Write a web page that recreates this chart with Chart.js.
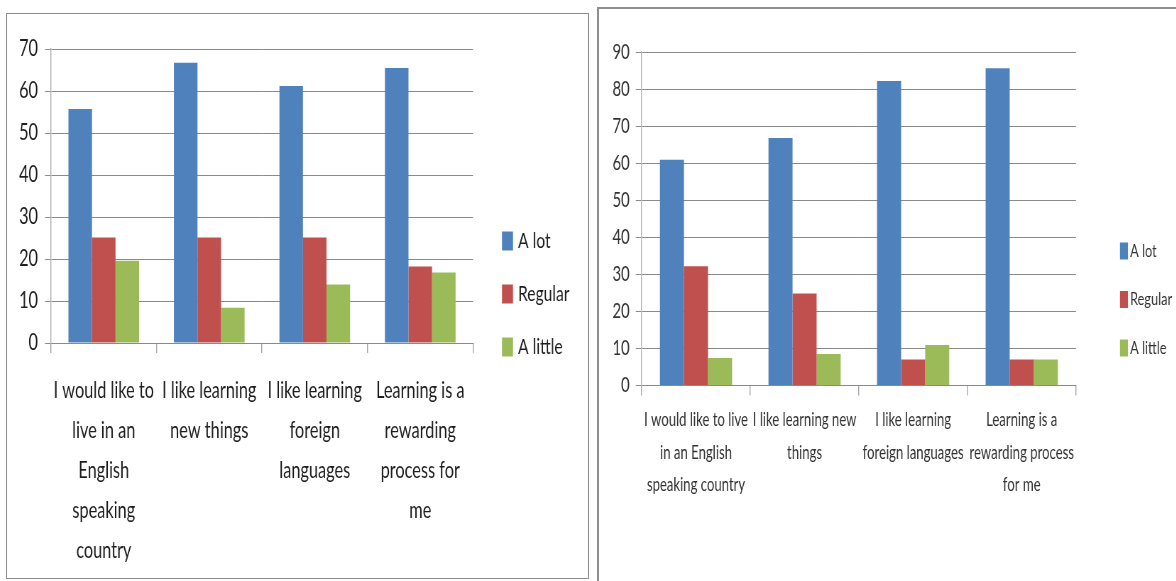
<!DOCTYPE html>
<html>
<head>
<meta charset="utf-8">
<script src="https://cdn.jsdelivr.net/npm/chart.js@4.4.1/dist/chart.umd.min.js"></script>
<style>
    body { margin: 0; background: #fff; width: 1176px; height: 581px; overflow: hidden; position: relative; }
    .frame { position: absolute; box-sizing: border-box; background: #fff; overflow: hidden; }
    #leftFrame { left: 6px; top: 13px; width: 583px; height: 566px; border: 1px solid #8c8c8c; }
    #rightFrame { left: 597px; top: 7px; width: 590px; height: 590px; border: 2px solid #8f8f8f; }
    /* narrow the whole drawing horizontally: condensed lettering like the original */
    canvas { position: absolute; left: 0; top: 0; transform-origin: 0 0; }
</style>
</head>
<body>
<div class="frame" id="leftFrame"><canvas id="leftChart"></canvas></div>
<div class="frame" id="rightFrame"><canvas id="rightChart"></canvas></div>

<script>
// Survey statements, split over lines the way each chart wraps them
const leftCategories = [
    ['I would like to', 'live in an', 'English', 'speaking', 'country'],
    ['I like learning', 'new things'],
    ['I like learning', 'foreign', 'languages'],
    ['Learning is a', 'rewarding', 'process for', 'me']
];
const rightCategories = [
    ['I would like to live', 'in an English', 'speaking country'],
    ['I like learning new', 'things'],
    ['I like learning', 'foreign languages'],
    ['Learning is a', 'rewarding process', 'for me']
];

const seriesNames = ['A lot', 'Regular', 'A little'];

// Left chart (%)
const leftALot = [55.7, 66.7, 61.2, 65.5];
const leftRegular = [25.1, 25.1, 25.1, 18.2];
const leftALittle = [19.6, 8.4, 13.9, 16.8];

// Right chart (%)
const rightALot = [60.9, 66.8, 82.2, 85.6];
const rightRegular = [32.2, 24.8, 7.0, 7.0];
const rightALittle = [7.4, 8.5, 10.9, 7.0];

const leftMax = 70;
const rightMax = 90;
const tickStep = 10;

const barColors = ['#4F81BD', '#C0504D', '#9BBB59'];
const fontFamily = "Lato, 'Open Sans', sans-serif";

// horizontal squeeze applied to the canvases; layout below is in screen px
const SX = 0.71;
const u = v => v / SX;

// Office-style legend on the right: small swatch, label beside it
const sideLegend = {
    id: 'sideLegend',
    afterDraw(chart, args, o) {
        const { ctx } = chart;
        ctx.save();
        ctx.font = `${o.size}px ${fontFamily}`;
        ctx.textBaseline = 'middle';
        ctx.textAlign = 'left';
        chart.data.datasets.forEach((ds, i) => {
            const cy = o.y + i * o.step;
            ctx.fillStyle = ds.backgroundColor;
            ctx.fillRect(o.x, cy - o.boxH / 2, o.boxW, o.boxH);
            ctx.fillStyle = o.color;
            ctx.fillText(ds.label, o.x + o.boxW + o.gap, cy);
        });
        ctx.restore();
    }
};

function buildChart(id, cfg) {
    const canvas = document.getElementById(id);
    const cw = Math.round(u(cfg.width));
    canvas.width = cw;
    canvas.height = cfg.height;
    canvas.style.transform = `scaleX(${SX})`;

    const datasets = cfg.series.map((data, i) => ({
        label: seriesNames[i],
        data,
        backgroundColor: barColors[i],
        borderWidth: 0,
        categoryPercentage: cfg.groupWidth,
        barPercentage: 1.0
    }));

    return new Chart(canvas, {
        type: 'bar',
        data: { labels: cfg.labels, datasets },
        plugins: [sideLegend],
        options: {
            responsive: false,
            animation: false,
            layout: {
                padding: { left: 0, right: cw - u(cfg.areaRight), top: cfg.top, bottom: cfg.bottom }
            },
            plugins: {
                legend: { display: false },
                tooltip: { enabled: false },
                sideLegend: {
                    x: u(cfg.legend.x), y: cfg.legend.y, step: cfg.legend.step,
                    boxW: u(cfg.legend.boxW), boxH: cfg.legend.boxH, gap: u(cfg.legend.gap),
                    size: cfg.legend.size, color: cfg.textColor
                }
            },
            scales: {
                x: {
                    grid: {
                        display: true,
                        drawOnChartArea: false,
                        drawTicks: true,
                        tickLength: 10,
                        lineWidth: u(1),
                        color: '#a6a6a6'
                    },
                    border: { display: true, color: '#8a8a8a', width: 1 },
                    ticks: {
                        color: cfg.textColor,
                        maxRotation: 0,
                        minRotation: 0,
                        autoSkip: false,
                        padding: cfg.xTickPadding,
                        font: { family: fontFamily, size: cfg.xFont, lineHeight: cfg.xLineHeight / cfg.xFont }
                    }
                },
                y: {
                    min: 0,
                    max: cfg.max,
                    afterFit(scale) { scale.width = u(cfg.areaLeft); },
                    grid: {
                        color: '#8a8a8a',
                        drawTicks: true,
                        tickLength: u(6)
                    },
                    border: { display: true, color: '#b4b4b4', width: u(1) },
                    ticks: {
                        stepSize: tickStep,
                        color: cfg.textColor,
                        padding: u(cfg.yTickGap),
                        font: { family: fontFamily, size: cfg.yFont }
                    }
                }
            }
        }
    });
}

buildChart('leftChart', {
    labels: leftCategories,
    series: [leftALot, leftRegular, leftALittle],
    max: leftMax,
    width: 581,
    height: 575,
    areaLeft: 44,
    areaRight: 466,
    top: 35,
    bottom: 0,
    groupWidth: 0.67,
    xTickPadding: 18,
    xFont: 23,
    xLineHeight: 40,
    yFont: 23,
    yTickGap: 7,
    textColor: '#1e1e1e',
    legend: { x: 495, y: 227, step: 53, boxW: 11, boxH: 19, gap: 5, size: 22 }
});

buildChart('rightChart', {
    labels: rightCategories,
    series: [rightALot, rightRegular, rightALittle],
    max: rightMax,
    width: 577,
    height: 572,
    areaLeft: 42.7,
    areaRight: 477,
    top: 43,
    bottom: 71,
    groupWidth: 0.665,
    xTickPadding: 8.5,
    xFont: 18.5,
    xLineHeight: 32.5,
    yFont: 21,
    yTickGap: 6,
    textColor: '#333333',
    legend: { x: 521, y: 242, step: 48.5, boxW: 8, boxH: 17, gap: 2, size: 18 }
});
</script>
</body>
</html>
